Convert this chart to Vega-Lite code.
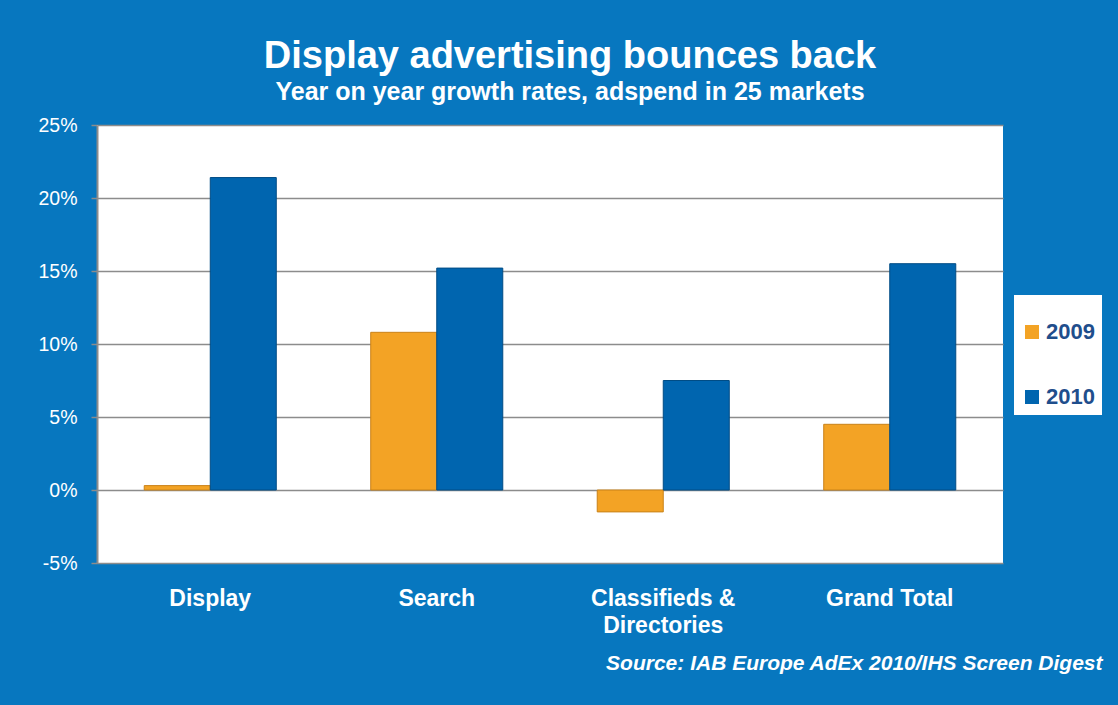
{
  "$schema": "https://vega.github.io/schema/vega-lite/v6.json",
  "width": 906,
  "height": 438,
  "autosize": {"type": "none"},
  "padding": {"left": 97, "top": 125, "right": 115, "bottom": 142},
  "background": "#0777BF",
  "title": {
    "text": "Display advertising bounces back",
    "subtitle": "Year on year growth rates, adspend in 25 markets",
    "anchor": "middle",
    "frame": "group",
    "dx": 20,
    "offset": 10,
    "font": "Liberation Sans",
    "fontSize": 38,
    "fontWeight": "bold",
    "color": "white",
    "subtitleFont": "Liberation Sans",
    "subtitleFontSize": 25,
    "subtitleFontWeight": "bold",
    "subtitleColor": "white",
    "subtitlePadding": 4
  },
  "data": {
    "values": [
      {"category": "Display", "year": "2009", "growth": 0.003},
      {"category": "Display", "year": "2010", "growth": 0.214},
      {"category": "Search", "year": "2009", "growth": 0.108},
      {"category": "Search", "year": "2010", "growth": 0.152},
      {"category": "Classifieds & Directories", "year": "2009", "growth": -0.015},
      {"category": "Classifieds & Directories", "year": "2010", "growth": 0.075},
      {"category": "Grand Total", "year": "2009", "growth": 0.045},
      {"category": "Grand Total", "year": "2010", "growth": 0.155}
    ]
  },
  "mark": {"type": "bar", "strokeWidth": 1},
  "encoding": {
    "x": {
      "field": "category",
      "type": "nominal",
      "sort": null,
      "scale": {"paddingInner": 0.417, "paddingOuter": 0.2085},
      "axis": {
        "title": "Source: IAB Europe AdEx 2010/IHS Screen Digest",
        "titleFont": "Liberation Sans",
        "titleFontSize": 21,
        "titleFontWeight": "bold",
        "titleFontStyle": "italic",
        "titleColor": "white",
        "titleAnchor": "end",
        "titleAlign": "right",
        "titleBaseline": "alphabetic",
        "titleX": 1005,
        "titleY": 106,
        "labelAngle": 0,
        "labelColor": "white",
        "labelFont": "Liberation Sans",
        "labelFontSize": 23,
        "labelFontWeight": "bold",
        "labelBaseline": "top",
        "labelLineHeight": 27,
        "labelPadding": 24,
        "labelExpr": "datum.label == 'Classifieds & Directories' ? ['Classifieds &', 'Directories'] : datum.label",
        "domain": false,
        "ticks": false
      }
    },
    "xOffset": {"field": "year", "type": "nominal"},
    "y": {
      "field": "growth",
      "type": "quantitative",
      "scale": {"domain": [-0.05, 0.25], "nice": false, "zero": false},
      "axis": {
        "title": null,
        "values": [-0.05, 0, 0.05, 0.1, 0.15, 0.2, 0.25],
        "labelExpr": "round(datum.value * 100) + '%'",
        "labelColor": "white",
        "labelFont": "Liberation Sans",
        "labelFontSize": 19.5,
        "labelPadding": 14,
        "tickColor": "#8C8C8C",
        "tickSize": 6,
        "tickWidth": 1.5,
        "domainColor": "#8C8C8C",
        "domainWidth": 2,
        "grid": true,
        "gridColor": "#8C8C8C",
        "gridWidth": 1.5
      }
    },
    "color": {
      "field": "year",
      "type": "nominal",
      "scale": {"domain": ["2009", "2010"], "range": ["#F3A325", "#0065AF"]},
      "legend": {
        "orient": "none",
        "legendX": 917,
        "legendY": 170,
        "title": " ",
        "titleFontSize": 12,
        "titlePadding": 7,
        "fillColor": "white",
        "padding": 7,
        "symbolType": "square",
        "symbolSize": 196,
        "symbolStrokeWidth": 0,
        "labelFont": "Liberation Sans",
        "labelFontSize": 22,
        "labelFontWeight": "bold",
        "labelColor": "#1F4E8C",
        "labelOffset": 3,
        "rowPadding": 43
      }
    },
    "stroke": {
      "field": "year",
      "type": "nominal",
      "scale": {"domain": ["2009", "2010"], "range": ["#C98219", "#004C85"]},
      "legend": null
    }
  },
  "config": {
    "view": {"stroke": null, "fill": "white"}
  }
}
